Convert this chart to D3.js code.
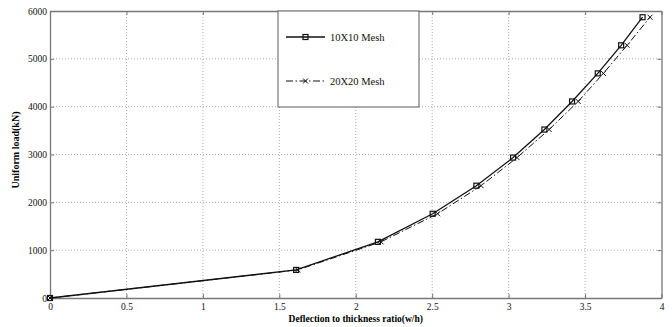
<!DOCTYPE html>
<html><head><meta charset="utf-8">
<script src="https://cdn.jsdelivr.net/npm/d3@7"></script>
<style>body{margin:0;background:#fff;} svg{display:block;}</style>
</head><body>
<svg id="c" width="672" height="327"></svg>
<script>
const xTicks = [0, 0.5, 1, 1.5, 2, 2.5, 3, 3.5, 4];
const yTicks = [0, 1000, 2000, 3000, 4000, 5000, 6000];
const load = [0, 587, 1174, 1761, 2348, 2935, 3522, 4109, 4696, 5283, 5870];
const defl10 = [0, 1.61, 2.145, 2.503, 2.789, 3.029, 3.234, 3.415, 3.583, 3.736, 3.876];
const defl20 = [0, 1.62, 2.165, 2.535, 2.82, 3.055, 3.265, 3.455, 3.62, 3.775, 3.925];
const seriesNames = ["10X10 Mesh", "20X20 Mesh"];
const xTitle = "Deflection to thickness ratio(w/h)";
const yTitle = "Uniform load(kN)";

const svg = d3.select("#c");
const L = 50, R = 661.5, T = 11, B = 298;
const x = d3.scaleLinear().domain([0, 4]).range([L, R]);
const y = d3.scaleLinear().domain([0, 6000]).range([B, T]);
const font = "'Liberation Serif', 'Times New Roman', serif";

// grid
const g = svg.append("g");
g.selectAll(".gx").data(xTicks.slice(1, -1)).enter().append("line")
  .attr("x1", d => x(d)).attr("x2", d => x(d)).attr("y1", T).attr("y2", B)
  .attr("stroke", "#aaa").attr("stroke-width", 1).attr("stroke-dasharray", "1,2");
g.selectAll(".gy").data(yTicks.slice(1, -1)).enter().append("line")
  .attr("y1", d => y(d)).attr("y2", d => y(d)).attr("x1", L).attr("x2", R)
  .attr("stroke", "#aaa").attr("stroke-width", 1).attr("stroke-dasharray", "1,2");

// axes
const ax = svg.append("g").attr("transform", `translate(0,${B})`)
  .call(d3.axisBottom(x).tickValues(xTicks).tickFormat(d3.format("")).tickSizeInner(-4).tickSizeOuter(0).tickPadding(5));
const ay = svg.append("g").attr("transform", `translate(${L},0)`)
  .call(d3.axisLeft(y).tickValues(yTicks).tickFormat(d3.format("d")).tickSizeInner(-4).tickSizeOuter(0).tickPadding(3));
const axT = svg.append("g").attr("transform", `translate(0,${T})`)
  .call(d3.axisTop(x).tickValues(xTicks).tickFormat("").tickSizeInner(-4).tickSizeOuter(0));
const ayR = svg.append("g").attr("transform", `translate(${R},0)`)
  .call(d3.axisRight(y).tickValues(yTicks).tickFormat("").tickSizeInner(-4).tickSizeOuter(0));
[ax, ay, axT, ayR].forEach(a => {
  a.selectAll("path").attr("stroke", "#777").attr("stroke-width", 1.3);
  a.selectAll("line").attr("stroke", "#777");
  a.selectAll("text").attr("font-family", font).attr("font-size", 9.5).attr("fill", "#111");
});

// series
const pts10 = defl10.map((d, i) => [d, load[i]]);
const pts20 = defl20.map((d, i) => [d, load[i]]);
const line = d3.line().x(d => x(d[0])).y(d => y(d[1]));
svg.append("path").datum(pts20).attr("d", line).attr("fill", "none")
  .attr("stroke", "#111").attr("stroke-width", 1).attr("stroke-dasharray", "7,2.5,1.5,2.5");
svg.append("path").datum(pts10).attr("d", line).attr("fill", "none")
  .attr("stroke", "#111").attr("stroke-width", 1.3);

svg.selectAll(".sq").data(pts10).enter().append("rect")
  .attr("x", d => x(d[0]) - 2.5).attr("y", d => y(d[1]) - 2.5)
  .attr("width", 5).attr("height", 5).attr("fill", "none").attr("stroke", "#111").attr("stroke-width", 1.2);
svg.selectAll(".xm").data(pts20).enter().append("path")
  .attr("d", d => { const cx = x(d[0]), cy = y(d[1]), s = 2.5;
    return `M${cx-s},${cy-s}L${cx+s},${cy+s}M${cx-s},${cy+s}L${cx+s},${cy-s}`; })
  .attr("stroke", "#111").attr("stroke-width", 1);

// legend
const lg = svg.append("g");
lg.append("rect").attr("x", 278).attr("y", T).attr("width", 141).attr("height", 96)
  .attr("fill", "#fff").attr("stroke", "#777").attr("stroke-width", 1.2);
const ly = [37, 81];
lg.append("line").attr("x1", 286).attr("x2", 325).attr("y1", ly[0]).attr("y2", ly[0])
  .attr("stroke", "#111").attr("stroke-width", 1.3);
lg.append("rect").attr("x", 305.5 - 2.5).attr("y", ly[0] - 2.5).attr("width", 5).attr("height", 5)
  .attr("fill", "none").attr("stroke", "#111").attr("stroke-width", 1.2);
lg.append("line").attr("x1", 286).attr("x2", 325).attr("y1", ly[1]).attr("y2", ly[1])
  .attr("stroke", "#111").attr("stroke-width", 1).attr("stroke-dasharray", "7,2.5,1.5,2.5");
lg.append("path").attr("d", `M303,${ly[1]-2.5}L308,${ly[1]+2.5}M303,${ly[1]+2.5}L308,${ly[1]-2.5}`)
  .attr("stroke", "#111").attr("stroke-width", 1);
lg.selectAll("text.l").data(seriesNames).enter().append("text")
  .attr("x", 330).attr("y", (d, i) => ly[i] + 3.5).text(d => d)
  .attr("font-family", font).attr("font-size", 10.5).attr("fill", "#111");

// titles
svg.append("text").attr("x", x(2)).attr("y", 322).attr("text-anchor", "middle")
  .attr("font-family", font).attr("font-size", 9.5).attr("font-weight", "bold").text(xTitle);
svg.append("text").attr("transform", `translate(19,150) rotate(-90)`).attr("text-anchor", "middle")
  .attr("font-family", font).attr("font-size", 10).attr("font-weight", "bold").text(yTitle);
</script>
</body></html>
